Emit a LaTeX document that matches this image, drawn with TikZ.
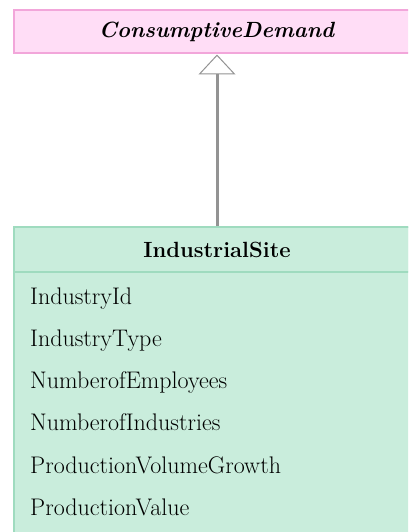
\documentclass[tikz,border=0pt]{standalone}
\usepackage{xcolor}
\usepackage{tikz}
\usetikzlibrary{arrows.meta,positioning}
\definecolor{absfill}{HTML}{FFDDF6}
\definecolor{absline}{HTML}{F2A6DA}
\definecolor{clsfill}{HTML}{C9EDDC}
\definecolor{clsline}{HTML}{9FDBBF}
\definecolor{genline}{HTML}{939393}

\begin{document}
\begin{tikzpicture}[x=1pt, y=-1pt, every node/.style={font=\fontsize{24}{28}\selectfont},
  classhead/.style={draw, line width=2pt, minimum width=406pt, inner sep=0pt, font=\fontsize{22}{26}\selectfont},
  attr/.style={anchor=base west, inner sep=0pt}]
\clip (0,0) rectangle (408,532);
% abstract parent class
\node[classhead, fill=absfill, draw=absline, minimum height=43pt] (demand) at (217,32) {\textbf{\textit{ConsumptiveDemand}}};
% concrete class: header band, then attribute compartment
\fill[clsfill] (14,227) rectangle (430,545);
\draw[clsline, line width=2pt] (430,227) -- (14,227) -- (14,545);
\node[classhead, draw=clsline, fill=clsfill, minimum height=45pt] (site) at (217,249.5) {\textbf{IndustrialSite}};
\foreach \name [count=\i] in {IndustryId, IndustryType, NumberofEmployees, NumberofIndustries, ProductionVolumeGrowth, ProductionValue}
  \node[attr] (a\i) at (30,{262+42.2*\i}) {\name};
% generalisation
\draw[genline, line width=3pt, -{Triangle[length=20pt, width=37pt, fill=white, line width=1pt]}] (site.north) -- (demand.south);
\end{tikzpicture}
\end{document}
